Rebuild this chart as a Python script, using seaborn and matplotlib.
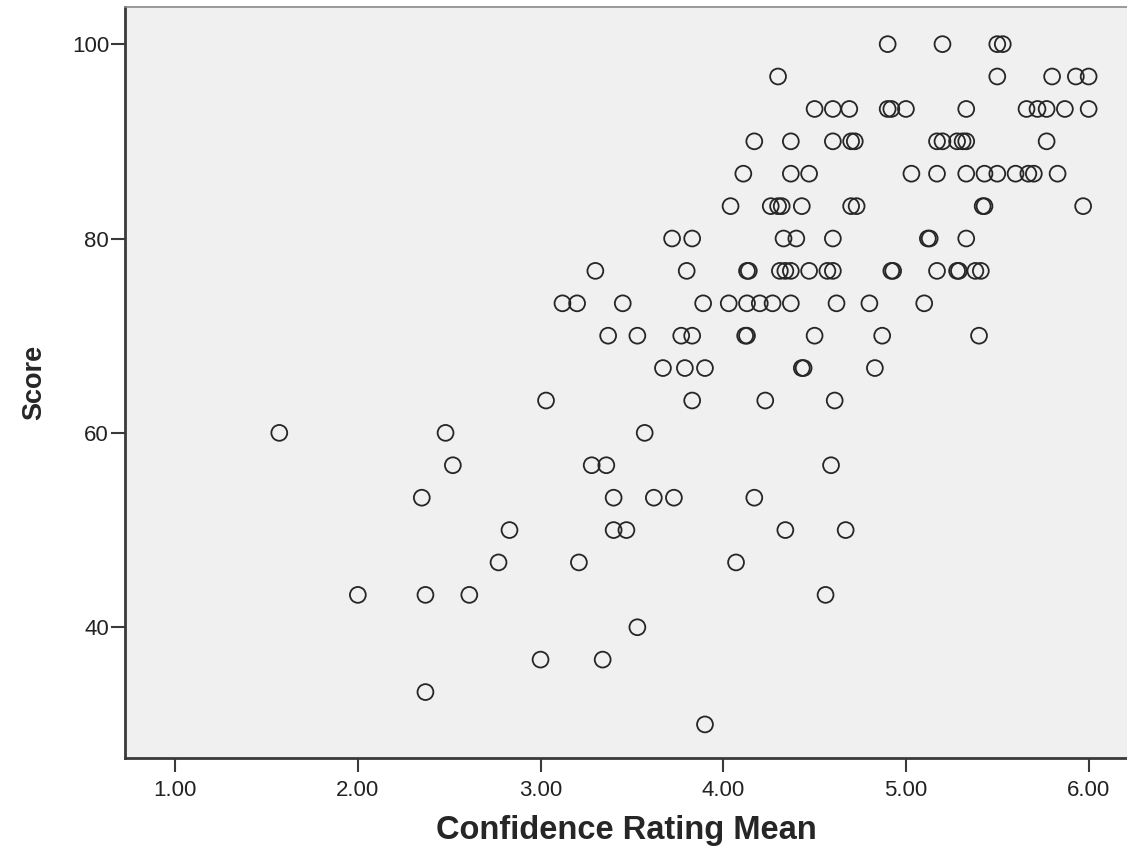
import matplotlib
matplotlib.use("Agg")
import matplotlib.pyplot as plt
import numpy as np
import pandas as pd
import seaborn as sns

# score levels (out of 30 items -> steps of 3.33) and the confidence means read per level
score_levels = [100.00, 96.67, 93.33, 90.00, 86.67, 83.33, 80.00, 76.67, 73.33, 70.00, 66.67,
                63.33, 60.00, 56.67, 53.33, 50.00, 46.67, 43.33, 40.00, 36.67, 33.33, 30.00]

confidence_by_level = [
    [4.90, 5.20, 5.50, 5.53],
    [4.30, 5.50, 5.80, 5.93, 6.00],
    [4.50, 4.60, 4.69, 4.90, 4.92, 5.00, 5.33, 5.66, 5.72, 5.77, 5.87, 6.00],
    [4.17, 4.37, 4.60, 4.70, 4.72, 5.17, 5.20, 5.28, 5.31, 5.33, 5.77],
    [4.11, 4.37, 4.47, 5.03, 5.17, 5.33, 5.43, 5.50, 5.60, 5.67, 5.70, 5.83],
    [4.04, 4.26, 4.30, 4.32, 4.43, 4.70, 4.73, 5.42, 5.43, 5.97],
    [3.72, 3.83, 4.33, 4.40, 4.60, 5.12, 5.13, 5.33],
    [3.30, 3.80, 4.13, 4.14, 4.31, 4.34, 4.37, 4.47, 4.57, 4.60, 4.92, 4.93, 5.17, 5.28, 5.29,
     5.38, 5.41],
    [3.12, 3.20, 3.45, 3.89, 4.03, 4.13, 4.20, 4.27, 4.37, 4.62, 4.80, 5.10],
    [3.37, 3.53, 3.77, 3.83, 4.12, 4.13, 4.50, 4.87, 5.40],
    [3.67, 3.79, 3.90, 4.43, 4.44, 4.83],
    [3.03, 3.83, 4.23, 4.61],
    [1.57, 2.48, 3.57],
    [2.52, 3.28, 3.36, 4.59],
    [2.35, 3.40, 3.62, 3.73, 4.17],
    [2.83, 3.40, 3.47, 4.34, 4.67],
    [2.77, 3.21, 4.07],
    [2.00, 2.37, 2.61, 4.56],
    [3.53],
    [3.00, 3.34],
    [2.37],
    [3.90],
]

x_ticks = [1.00, 2.00, 3.00, 4.00, 5.00, 6.00]
y_ticks = [40, 60, 80, 100]

rows = []
for level, xs in zip(score_levels, confidence_by_level):
    for x in xs:
        rows.append({"Confidence Rating Mean": x, "Score": level})
df = pd.DataFrame(rows)

sns.set_theme(style="white")
plt.rcParams['font.family'] = ['Liberation Sans', 'DejaVu Sans']

fig = plt.figure(figsize=(11.27, 8.58), dpi=100)
ax = fig.add_axes([0.111, 0.1166, 0.889, 0.875])
ax.set_facecolor("#f0f0f0")

sns.scatterplot(data=df, x="Confidence Rating Mean", y="Score", ax=ax,
                marker="o", s=130, facecolors="none", edgecolor="#262626",
                linewidth=1.3, legend=False)

ax.set_xlim(0.726, 6.21)
ax.set_ylim(26.55, 103.8)
ax.set_xticks(x_ticks)
ax.set_xticklabels([f"{t:.2f}" for t in x_ticks])
ax.set_yticks(y_ticks)

for side in ["left", "bottom"]:
    ax.spines[side].set_color("#3a3a3a")
    ax.spines[side].set_linewidth(2.0)
ax.spines["top"].set_color("#8a8a8a")
ax.spines["top"].set_linewidth(1.2)
ax.spines["right"].set_visible(False)

ax.tick_params(axis="both", which="major", bottom=True, left=True, direction="out",
               length=10, width=1.5, color="#3a3a3a", labelsize=16, labelcolor="#222222")
ax.tick_params(axis="x", pad=6)
ax.tick_params(axis="y", pad=1.5)

ax.set_xlabel("Confidence Rating Mean", fontsize=23.5, fontweight="bold", labelpad=10)
ax.set_ylabel("Score", fontsize=19.5, fontweight="bold", labelpad=18)

fig.savefig("out.png", dpi=100)
